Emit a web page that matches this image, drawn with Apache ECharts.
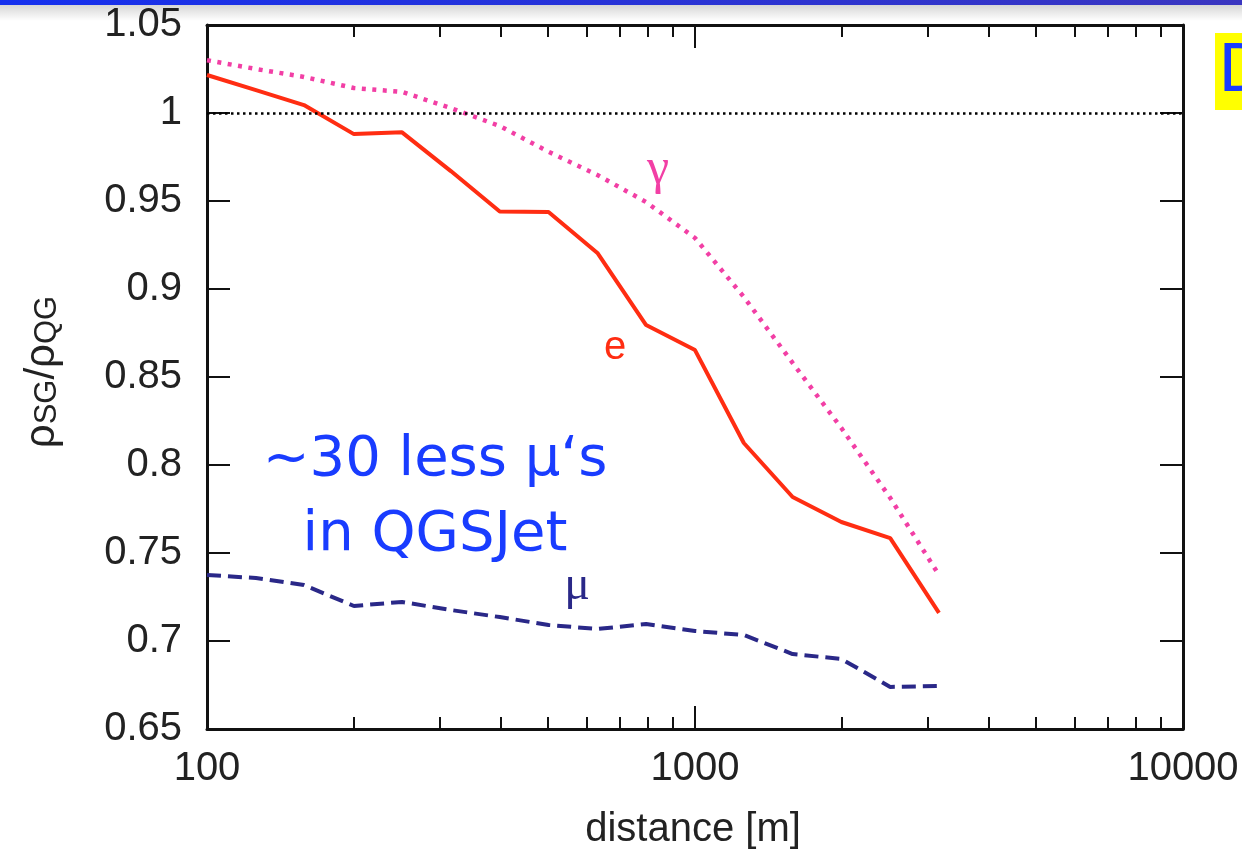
<!DOCTYPE html>
<html><head><meta charset="utf-8">
<script src="https://cdn.jsdelivr.net/npm/echarts@6/dist/echarts.min.js"></script>
<style>html,body{margin:0;padding:0;background:#fff}#c{width:1242px;height:857px}</style>
</head><body><div id="c"></div>
<script>
// distance [m] (log-spaced sample points)
const distances = [100,126,158,200,251,316,398,501,631,794,1000,1259,1585,1995,2512,3162];
// rho_SG / rho_QG for each particle type
const electron = [1.0216,1.013,1.0045,0.988,0.989,0.967,0.944,0.9437,0.9205,0.8795,0.8653,0.8125,0.7818,0.7676,0.7585,0.716];
const gamma    = [1.030,1.025,1.0205,1.0142,1.012,1.0028,0.9926,0.978,0.9648,0.9494,0.929,0.8955,0.858,0.821,0.7813,0.7375];
const muon     = [0.7375,0.7358,0.7318,0.7199,0.7222,0.7176,0.7136,0.7091,0.7068,0.7097,0.7057,0.7034,0.6926,0.6898,0.6739,0.6744];
const xMajorTicks = [100,1000,10000];
const xMinorTicks = [200,300,400,500,600,700,800,900,2000,3000,4000,5000,6000,7000,8000,9000];
const yMin = 0.65, yMax = 1.05, yStep = 0.05;
const refLine = 1;

const chart = echarts.init(document.getElementById('c'), null, {renderer:'canvas'});
const toPairs = ys => distances.map((d,i)=>[d, ys[i]]);
const axisColor = '#111';
const labelFont = {fontFamily:'Liberation Sans, Arial, sans-serif', fontSize:40, color:'#222'};

function xAxisDef(pos, ticks, len, showLine, showLabel){
  return {
    type:'log', logBase:10, min:100, max:10000, position:pos,
    axisLine:{show:showLine, onZero:false, lineStyle:{color:axisColor, width:3}},
    axisTick:{show:true, inside:true, length:len, customValues:ticks, lineStyle:{color:axisColor, width:2}},
    axisLabel: showLabel ? Object.assign({show:true, margin:20, customValues:xMajorTicks,
      formatter:v => String(Math.round(v))}, labelFont) : {show:false},
    splitLine:{show:false}, minorTick:{show:false}
  };
}
function yAxisDef(pos, showLabel){
  return {
    type:'value', min:yMin, max:yMax, interval:yStep, position:pos,
    axisLine:{show:true, onZero:false, lineStyle:{color:axisColor, width:3}},
    axisTick:{show:true, inside:true, length:23, lineStyle:{color:axisColor, width:2}},
    axisLabel: showLabel ? Object.assign({show:true, margin:25}, labelFont) : {show:false},
    splitLine:{show:false}
  };
}

const option = {
  animation:false,
  backgroundColor:'#ffffff',
  grid:{left:207, right:59, top:25, bottom:128, containLabel:false},
  xAxis:[
    xAxisDef('bottom', xMajorTicks, 23, true, true),
    xAxisDef('bottom', xMinorTicks, 12, false, false),
    xAxisDef('top', xMajorTicks, 23, true, false),
    xAxisDef('top', xMinorTicks, 12, false, false)
  ],
  yAxis:[ yAxisDef('left', true), yAxisDef('right', false) ],
  series:[
    {type:'line', name:'ref', xAxisIndex:0, yAxisIndex:0, data:[], showSymbol:false,
     markLine:{silent:true, symbol:['none','none'], label:{show:false},
       lineStyle:{color:'#000', type:[2.5,3.5], width:2.5}, data:[{yAxis:refLine}]}},
    {type:'line', name:'gamma', data:toPairs(gamma), showSymbol:false, smooth:false,
     lineStyle:{color:'#f23fa5', width:4.5, type:[4,6.5]}},
    {type:'line', name:'e', data:toPairs(electron), showSymbol:false, smooth:false,
     lineStyle:{color:'#ff2d12', width:4}},
    {type:'line', name:'mu', data:toPairs(muon), showSymbol:false, smooth:false,
     lineStyle:{color:'#2a2888', width:4, type:[14,7]}}
  ],
  graphic:[
    {type:'rect', shape:{x:0,y:0,width:1242,height:5}, z:100,
     style:{fill:new echarts.graphic.LinearGradient(0,0,1,0,[{offset:0,color:'#1530ee'},{offset:1,color:'#3a36c0'}])}},
    {type:'rect', shape:{x:0,y:5,width:1242,height:16}, z:99, silent:true,
     style:{fill:new echarts.graphic.LinearGradient(0,0,0,1,[{offset:0,color:'rgba(0,0,0,0.16)'},{offset:1,color:'rgba(0,0,0,0)'}])}},
    {type:'rect', shape:{x:1215,y:33,width:40,height:77}, z:100, style:{fill:'#ffff00'}},
    {type:'text', x:1218, y:74, z:101, style:{text:'D', fontFamily:'DejaVu Sans', fontSize:66, fill:'#193cff', textVerticalAlign:'middle'}},
    {type:'text', x:435, y:460, z:101, style:{text:'~30 less μ‘s', fontFamily:'DejaVu Sans', fontSize:56, fill:'#193cff', textAlign:'center', textVerticalAlign:'middle'}},
    {type:'text', x:435, y:535, z:101, style:{text:'in QGSJet', fontFamily:'DejaVu Sans', fontSize:56, fill:'#193cff', textAlign:'center', textVerticalAlign:'middle'}},
    {type:'text', x:658, y:170, z:101, style:{text:'γ', fontFamily:'Liberation Serif', fontSize:50, fill:'#f23fa5', textAlign:'center', textVerticalAlign:'middle'}},
    {type:'text', x:615, y:348, z:101, style:{text:'e', fontFamily:'Liberation Sans', fontSize:40, fill:'#ff2d12', textAlign:'center', textVerticalAlign:'middle'}},
    {type:'text', x:577, y:586, z:101, style:{text:'μ', fontFamily:'Liberation Serif', fontSize:48, fill:'#2a2888', textAlign:'center', textVerticalAlign:'middle'}},
    {type:'text', x:693, y:830, z:101, style:{text:'distance [m]', fontFamily:'Liberation Sans', fontSize:40, fill:'#222', textAlign:'center', textVerticalAlign:'middle'}},
    {type:'text', x:42, y:372, rotation:Math.PI/2, z:101,
     style:{text:'{r|ρ}{s|SG}{r|/ρ}{s|QG}', textAlign:'center', textVerticalAlign:'middle',
       rich:{
         r:{fontFamily:'Liberation Sans', fontSize:42, fill:'#222', lineHeight:42, verticalAlign:'top'},
         s:{fontFamily:'Liberation Sans', fontSize:31, fill:'#222', lineHeight:31, verticalAlign:'bottom', padding:[19,0,0,0]}
       }}}
  ]
};
chart.setOption(option);
</script></body></html>
